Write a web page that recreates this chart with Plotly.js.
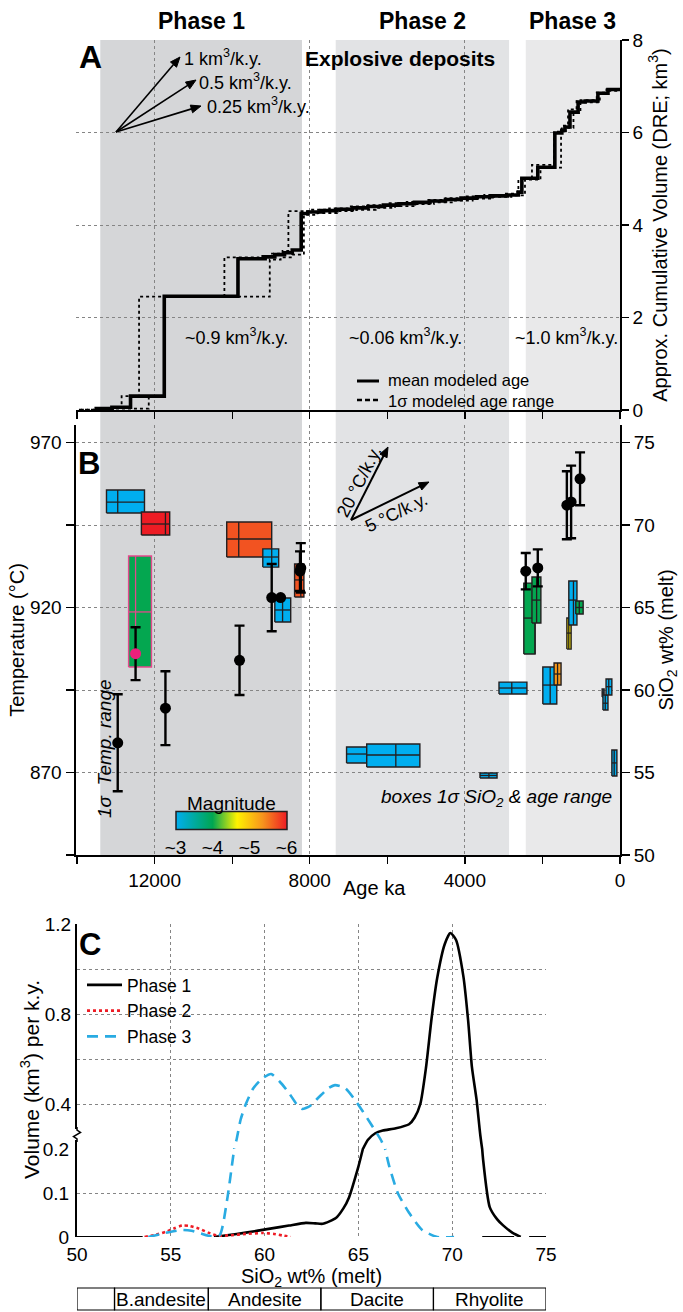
<!DOCTYPE html>
<html><head><meta charset="utf-8">
<script src="https://cdn.plot.ly/plotly-3.0.1.min.js"></script>
<style>html,body{margin:0;padding:0;background:#fff;}#chart{width:683px;height:1312px;}</style>
</head><body><div id="chart"></div>
<script>
// ================= DATA =================
// Eruptive phases (age, years before present)
const phaseNames = ['Phase 1', 'Phase 2', 'Phase 3'];
const phaseOldAge = [13400, 7330, 2430];
const phaseYoungAge = [8200, 2860, 0];
const phaseRates = ['~0.9 km<sup>3</sup>/k.y.', '~0.06 km<sup>3</sup>/k.y.', '~1.0 km<sup>3</sup>/k.y.'];
const refRates = ['1 km<sup>3</sup>/k.y.', '0.5 km<sup>3</sup>/k.y.', '0.25 km<sup>3</sup>/k.y.'];
const tempRates = ['20 °C/k.y.', '5 °C/k.y.'];
const seriesA = ['mean modeled age', '1σ modeled age range'];

// Panel A: cumulative volume (DRE km3) step curves
const meanAge = [13550, 13100, 12620, 11750, 9850, 9150, 8900, 8650, 8450, 8220, 8050, 7700, 7300, 6900, 6500, 6100, 5700, 5300, 4900, 4500, 4100, 3700, 3300, 2900, 2620, 2530, 2120, 1680, 1500, 1420, 1290, 1080, 900, 570, 310, 0];
const meanVol = [0.03, 0.06, 0.30, 2.46, 3.27, 3.31, 3.36, 3.40, 3.46, 4.25, 4.28, 4.31, 4.34, 4.37, 4.40, 4.43, 4.46, 4.49, 4.52, 4.55, 4.58, 4.61, 4.63, 4.65, 4.71, 5.01, 5.25, 5.99, 6.05, 6.12, 6.44, 6.66, 6.68, 6.85, 6.93, 6.93];
const olderAge = [13950, 13400, 12850, 12400, 10200, 9300, 9000, 8700, 8550, 8000, 7500, 7000, 6500, 6000, 5500, 5000, 4500, 4000, 3500, 3000, 2650, 2620, 2270, 1700, 1500, 1340, 1120, 600, 350, 0];
const olderVol = [0.01, 0.04, 0.30, 2.45, 3.30, 3.33, 3.38, 3.44, 4.30, 4.33, 4.36, 4.40, 4.43, 4.47, 4.50, 4.54, 4.58, 4.62, 4.65, 4.68, 4.75, 5.00, 5.30, 6.02, 6.15, 6.50, 6.70, 6.86, 6.93, 6.93];
const youngerAge = [13900, 13000, 12150, 11750, 9030, 8750, 8450, 8150, 7800, 7300, 6800, 6300, 5800, 5300, 4800, 4300, 3800, 3300, 2800, 2450, 2050, 1520, 1400, 1200, 1020, 520, 280, 0];
const youngerVol = [0.01, 0.03, 0.30, 2.45, 3.25, 3.30, 3.36, 4.22, 4.26, 4.30, 4.33, 4.37, 4.41, 4.45, 4.49, 4.53, 4.57, 4.61, 4.64, 4.98, 5.24, 6.00, 6.10, 6.42, 6.65, 6.83, 6.90, 6.90];

// Panel B: SiO2 boxes (1 sigma SiO2 and age range), eruption magnitude
const boxAgeOld   = [13240, 12340, 10140, 9210, 8900, 8390, 7050, 6530, 3610, 3120, 2480, 2270, 1370, 1320, 1140, 1990, 1700, 460, 440, 360, 210];
const boxAgeYoung = [12260, 11610, 8980, 8800, 8490, 8150, 6530, 5160, 3170, 2400, 2190, 2040, 1260, 1110, 950, 1630, 1520, 410, 310, 210, 80];
const boxAgeMean  = [12950, 11720, 9830, 8980, 8700, 8230, 6530, 5780, 3380, 2790, 2190, 2150, 1320, 1200, 1050, 1800, 1610, 435, 380, 290, 150];
const boxSiLow    = [70.73, 69.39, 68.06, 67.45, 64.12, 65.64, 55.58, 55.33, 54.67, 59.76, 62.18, 64.06, 62.48, 63.94, 64.61, 59.15, 60.30, 59.58, 58.79, 59.70, 54.79];
const boxSiHigh   = [72.12, 70.79, 70.18, 68.55, 65.58, 67.64, 56.55, 56.73, 54.97, 60.48, 66.48, 66.85, 64.36, 66.61, 65.39, 61.39, 61.64, 60.06, 59.70, 60.67, 56.36];
const boxSiMean   = [71.39, 70.06, 69.15, 68.06, 64.85, 66.67, 56.12, 56.06, 54.82, 60.12, 64.36, 65.45, 63.45, 65.45, 65.00, 60.30, 60.97, 59.82, 59.20, 60.20, 55.58];
const boxMag      = [3, 6, 5.7, 3, 3, 5.7, 3, 3, 3, 3, 4, 4, 4.7, 3, 4, 3, 5.3, 3, 3, 3, 3];
// highlighted sample (pink outline) with its temperature estimate
const hlAgeOld = [12670], hlAgeYoung = [12080], hlAgeMean = [12490];
const hlSiLow = [61.39], hlSiHigh = [68.12], hlSiMean = [64.73], hlMag = [4];
const hlTempAge = [12490], hlTemp = [906], hlTempErr = [8];
// temperatures (deg C) with 1 sigma
const tempAge = [12950, 11720, 9810, 8980, 8750, 8250, 8230, 2430, 2120, 1370, 1260, 1030];
const tempC   = [879, 889.5, 904, 923, 923, 931, 932, 931, 932, 951, 952, 959];
const tempErr = [14.7, 11.2, 10.5, 10.2, 0, 6, 7.5, 5.5, 5.6, 10.3, 11, 8];
const magTickVals = [3, 4, 5, 6];
const magTickText = ['~3', '~4', '~5', '~6'];

// Panel C: erupted volume per k.y. vs SiO2
const p1Si  = [57.3, 58.0, 59.0, 60.3, 61.3, 62.2, 62.7, 63.1, 63.8, 64.2, 64.5, 65.0, 65.5, 65.9, 66.3, 67.0, 67.7, 68.0, 68.3, 68.6, 68.9, 69.2, 69.6, 69.9, 70.2, 70.6, 70.85, 71.05, 71.3, 71.5, 71.65, 72.0, 72.4, 72.7, 73.2, 73.65];
const p1Vol = [0, 0.004, 0.010, 0.019, 0.026, 0.032, 0.031, 0.030, 0.043, 0.065, 0.090, 0.160, 0.240, 0.270, 0.282, 0.292, 0.310, 0.340, 0.400, 0.560, 0.780, 0.960, 1.110, 1.160, 1.130, 0.965, 0.770, 0.565, 0.418, 0.260, 0.175, 0.068, 0.040, 0.027, 0.010, 0];
const p2Si  = [53.6, 54.2, 54.75, 55.2, 55.6, 56.0, 56.5, 57.0, 57.5, 58.2, 59.0, 59.9, 60.5, 61.0, 61.4];
const p2Vol = [0, 0.005, 0.012, 0.020, 0.026, 0.025, 0.019, 0.010, 0.003, 0.004, 0.007, 0.009, 0.007, 0.003, 0];
const p3Si  = [53.8, 54.4, 55.0, 55.6, 56.1, 56.6, 57.1, 57.6, 58.0, 58.25, 58.5, 58.72, 59.0, 59.4, 59.9, 60.35, 60.8, 61.3, 61.7, 62.0, 62.4, 62.9, 63.4, 63.75, 64.3, 64.8, 65.25, 65.6, 66.2, 66.65, 67.1, 67.7, 68.4, 69.2, 70.1];
const p3Vol = [0, 0.006, 0.012, 0.016, 0.014, 0.008, 0.002, 0.004, 0.084, 0.160, 0.240, 0.330, 0.400, 0.470, 0.515, 0.533, 0.500, 0.449, 0.400, 0.378, 0.390, 0.431, 0.470, 0.484, 0.470, 0.420, 0.365, 0.320, 0.240, 0.160, 0.100, 0.055, 0.016, 0, 0];
const rockNames = ['', 'B.andesite', 'Andesite', 'Dacite', 'Rhyolite'];
const rockBounds = [50, 52, 57, 63, 69, 75];

// ================= HELPERS =================
const W = 683, H = 1312;
const X = p => p / W;
const Y = p => 1 - p / H;
const FONT = 'Liberation Sans, Arial, Helvetica, sans-serif';
const GRID = '#858585';
const magScale = [[0, '#00aeef'], [0.33, '#00a651'], [0.55, '#fff200'], [0.78, '#f7941d'], [1, '#ed1c24']];
function hex2rgb(h) { return [1, 3, 5].map(i => parseInt(h.substr(i, 2), 16)); }
function magColor(m) {
  const t = Math.max(0, Math.min(1, (m - 3) / 3));
  for (let i = 1; i < magScale.length; i++) {
    if (t <= magScale[i][0]) {
      const a = magScale[i - 1], b = magScale[i];
      const f = (t - a[0]) / (b[0] - a[0]);
      const ca = hex2rgb(a[1]), cb = hex2rgb(b[1]);
      return 'rgb(' + ca.map((v, k) => Math.round(v + (cb[k] - v) * f)).join(',') + ')';
    }
  }
  return magScale[magScale.length - 1][1];
}

const traces = [];
// ---------- Panel A ----------
traces.push({x: olderAge, y: olderVol, xaxis: 'x', yaxis: 'y', mode: 'lines', name: seriesA[1] + ' (older)', showlegend: false,
  line: {color: '#000', width: 1.8, dash: 'dot', shape: 'hv'}});
traces.push({x: youngerAge, y: youngerVol, xaxis: 'x', yaxis: 'y', mode: 'lines', name: seriesA[1] + ' (younger)', showlegend: false,
  line: {color: '#000', width: 1.8, dash: 'dot', shape: 'hv'}});
traces.push({x: meanAge, y: meanVol, xaxis: 'x', yaxis: 'y', mode: 'lines', name: seriesA[0], showlegend: false,
  line: {color: '#000', width: 3.6, shape: 'hv'}});

// ---------- Panel B ----------
function addBox(a0, a1, am, s0, s1, sm, mag, edge) {
  traces.push({x: [a0, a1, a1, a0, a0], y: [s0, s0, s1, s1, s0], xaxis: 'x2', yaxis: 'y2',
    mode: 'lines', fill: 'toself', fillcolor: magColor(mag), showlegend: false,
    line: {color: edge, width: 1.4}});
  traces.push({x: [a0, a1, null, am, am], y: [sm, sm, null, s0, s1], xaxis: 'x2', yaxis: 'y2',
    mode: 'lines', showlegend: false, line: {color: edge, width: 1.3}});
}
for (let i = 0; i < boxAgeOld.length; i++) {
  addBox(boxAgeOld[i], boxAgeYoung[i], boxAgeMean[i], boxSiLow[i], boxSiHigh[i], boxSiMean[i], boxMag[i], '#231f20');
}
addBox(hlAgeOld[0], hlAgeYoung[0], hlAgeMean[0], hlSiLow[0], hlSiHigh[0], hlSiMean[0], hlMag[0], '#e4488c');

// invisible markers carrying the magnitude colour scale (for the colour bar)
traces.push({x: boxAgeMean, y: boxSiMean, xaxis: 'x2', yaxis: 'y2', mode: 'markers', showlegend: false,
  marker: {size: 1, opacity: 0, color: boxMag, cmin: 3, cmax: 6, colorscale: magScale, showscale: true,
    colorbar: {orientation: 'h', xref: 'paper', yref: 'paper', x: X(231), xanchor: 'center', y: Y(852), yanchor: 'bottom',
      len: 111, lenmode: 'pixels', thickness: 18, thicknessmode: 'pixels', outlinecolor: '#231f20', outlinewidth: 1.5,
      borderwidth: 0, xpad: 0, ypad: 0, tickvals: magTickVals, ticktext: magTickText, ticks: '',
      tickfont: {size: 19, family: FONT, color: '#000'}}}});

// temperatures
traces.push({x: tempAge, y: tempC, xaxis: 'x2', yaxis: 'y3', mode: 'markers', showlegend: false,
  marker: {color: '#000', size: 11},
  error_y: {type: 'data', array: tempErr, visible: true, color: '#000', thickness: 2.4, width: 5}});
traces.push({x: hlTempAge, y: hlTemp, xaxis: 'x2', yaxis: 'y3', mode: 'markers', showlegend: false,
  marker: {color: '#ec1f7b', size: 11},
  error_y: {type: 'data', array: hlTempErr, visible: true, color: '#000', thickness: 2.4, width: 5}});

// ---------- Panel C ----------
const cSeries = [
  {name: 'Phase 1', x: p1Si, y: p1Vol, line: {color: '#000', width: 2.6}},
  {name: 'Phase 2', x: p2Si, y: p2Vol, line: {color: '#ee1c25', width: 2.6, dash: 'dot'}},
  {name: 'Phase 3', x: p3Si, y: p3Vol, line: {color: '#29abe2', width: 2.6, dash: '11px,7px'}}
];
cSeries.forEach(s => {
  traces.push({x: s.x, y: s.y, xaxis: 'x3', yaxis: 'y4', mode: 'lines', showlegend: false,
    line: Object.assign({shape: 'spline', smoothing: 0.6}, s.line)});
  traces.push({x: s.x, y: s.y, xaxis: 'x3', yaxis: 'y5', mode: 'lines', name: s.name, legend: 'legend2',
    showlegend: true, line: Object.assign({shape: 'spline', smoothing: 0.6}, s.line)});
});

// ================= LAYOUT =================
const shapes = [];
const bandColors = ['#d5d6d8', '#e2e3e5', '#e9e9ea'];
for (let i = 0; i < phaseNames.length; i++) {
  shapes.push({type: 'rect', xref: 'x', yref: 'paper', x0: phaseOldAge[i], x1: phaseYoungAge[i],
    y0: Y(855), y1: Y(40), fillcolor: bandColors[i], line: {width: 0}, layer: 'below'});
}
// arrows drawn as line + filled head (pixel positions converted to paper)
function arrow(ox, oy, tx, ty, width) {
  const dx = tx - ox, dy = ty - oy, L = Math.hypot(dx, dy);
  const ux = dx / L, uy = dy / L, nx = -uy, ny = ux;
  const hl = 10, hw = 4;
  const bx = tx - ux * hl, by = ty - uy * hl;
  shapes.push({type: 'line', xref: 'paper', yref: 'paper', x0: X(ox), y0: Y(oy), x1: X(bx + ux), y1: Y(by + uy),
    line: {color: '#000', width}});
  shapes.push({type: 'path', xref: 'paper', yref: 'paper', fillcolor: '#000', line: {color: '#000', width: 1},
    path: `M ${X(tx)} ${Y(ty)} L ${X(bx + nx * hw)} ${Y(by + ny * hw)} L ${X(bx - nx * hw)} ${Y(by - ny * hw)} Z`});
}
arrow(116, 132, 180, 57, 1.6);
arrow(116, 132, 196, 80, 1.6);
arrow(116, 132, 201, 106, 1.6);
arrow(351, 520, 388, 447, 2);
arrow(351, 520, 429, 482, 2);
// legend samples for panel A
shapes.push({type: 'line', xref: 'paper', yref: 'paper', x0: X(357), x1: X(379), y0: Y(381), y1: Y(381), line: {color: '#000', width: 3}});
shapes.push({type: 'line', xref: 'paper', yref: 'paper', x0: X(357), x1: X(381), y0: Y(400), y1: Y(400), line: {color: '#000', width: 2.6, dash: '5px,3px'}});
// broken-axis mark (panel C)
shapes.push({type: 'rect', xref: 'paper', yref: 'paper', x0: X(74), x1: X(80), y0: Y(1140), y1: Y(1129), fillcolor: '#fff', line: {width: 0}});
shapes.push({type: 'path', xref: 'paper', yref: 'paper',
  path: `M ${X(77)} ${Y(1127)} L ${X(77)} ${Y(1130)} L ${X(80.5)} ${Y(1132.5)} L ${X(73.5)} ${Y(1136.5)} L ${X(77)} ${Y(1139)} L ${X(77)} ${Y(1142)}`,
  line: {color: '#000', width: 1.5}});
// x-axis line fragments (panel C)
[[50, 53.5], [71.6, 73.3], [74.1, 75]].forEach(s => shapes.push({type: 'line', xref: 'x3', yref: 'y4',
  x0: s[0], x1: s[1], y0: 0, y1: 0, line: {color: '#000', width: 2}}));
// rock-type table
for (let i = 0; i < rockNames.length; i++) {
  shapes.push({type: 'rect', xref: 'x3', yref: 'paper', x0: rockBounds[i], x1: rockBounds[i + 1],
    y0: Y(1310), y1: Y(1288), line: {color: '#000', width: 1.2}});
}

const ann = [];
const txt = (text, x, y, size, extra) => ann.push(Object.assign({text, x: X(x), y: Y(y), xref: 'paper', yref: 'paper',
  showarrow: false, font: {size, family: FONT, color: '#000'}, xanchor: 'center', yanchor: 'middle'}, extra || {}));
for (let i = 0; i < phaseNames.length; i++) {
  ann.push({text: '<b>' + phaseNames[i] + '</b>', xref: 'x', yref: 'paper', x: (phaseOldAge[i] + phaseYoungAge[i]) / 2,
    y: Y(21), xanchor: 'center', yanchor: 'middle', showarrow: false, font: {size: 23, family: FONT, color: '#000'}});
}
txt('<b>A</b>', 90, 57, 32);
txt('<b>Explosive deposits</b>', 400, 59, 21);
const arrowLabelPos = [[182, 57], [197, 81], [205, 105]];
for (let i = 0; i < refRates.length; i++) txt(refRates[i], arrowLabelPos[i][0], arrowLabelPos[i][1], 18, {xanchor: 'left'});
const rateX = [236, 405, 566];
for (let i = 0; i < phaseRates.length; i++) txt(phaseRates[i], rateX[i], 336, 18);
txt(seriesA.join('<br>'), 386, 390.5, 16.5, {xanchor: 'left', align: 'left'});
// panel B
txt('<b>B</b>', 89, 463, 31);
txt(tempRates[0], 359, 482, 18, {textangle: -63});
txt(tempRates[1], 396, 513, 18, {textangle: -26});
txt('<i>1σ  Temp. range</i>', 104, 749, 19, {textangle: -90});
txt('<i>boxes 1σ SiO<sub>2</sub> &amp; age range</i>', 614, 798, 19, {xanchor: 'right'});
txt('Magnitude', 231, 803, 19);
txt('Age ka', 374, 888, 20);
// panel C
txt('<b>C</b>', 90, 944, 31);
txt('Volume (km<sup>3</sup>) per k.y.', 30, 1080, 21, {textangle: -90});
for (let i = 1; i < rockNames.length; i++) {
  ann.push({text: rockNames[i], xref: 'x3', yref: 'paper', x: (rockBounds[i] + rockBounds[i + 1]) / 2, y: Y(1299.5),
    xanchor: 'center', yanchor: 'middle', showarrow: false, font: {size: 19, family: FONT, color: '#000'}});
}

const ageAxis = (anchor, labels) => ({
  domain: [X(76), X(620)], range: [14026, 0], anchor, showline: true, linecolor: '#000', linewidth: 2,
  ticks: 'outside', ticklen: 7, tickwidth: 1.3, tickcolor: '#000', tick0: 0, dtick: 4000, tickformat: 'd',
  showticklabels: labels, tickfont: {size: 19, family: FONT, color: '#000'},
  showgrid: true, gridcolor: GRID, griddash: 'dot', gridwidth: 1, zeroline: false,
  minor: {tick0: 0, dtick: 2000, ticks: 'outside', ticklen: 7, tickwidth: 1.3, tickcolor: '#000', showgrid: false}
});

const layout = {
  width: W, height: H, margin: {l: 0, r: 0, t: 0, b: 0}, paper_bgcolor: '#fff', plot_bgcolor: 'rgba(0,0,0,0)',
  font: {family: FONT, size: 19, color: '#000'},
  xaxis: ageAxis('y', false),
  yaxis: {domain: [Y(410), Y(40)], range: [0, 8], anchor: 'x', side: 'right', showline: true, linecolor: '#000', linewidth: 1.8,
    ticks: 'outside', ticklen: 7, tickcolor: '#000', tickwidth: 1.3, tick0: 0, dtick: 2, tickfont: {size: 19},
    showgrid: true, gridcolor: GRID, griddash: 'dot', zeroline: false,
    title: {text: 'Approx. Cumulative Volume (DRE; km<sup>3</sup>)', font: {size: 20}, standoff: 10}},
  xaxis2: ageAxis('y2', true),
  yaxis2: {domain: [Y(855), Y(425)], range: [50, 50 + 430 / 16.5], anchor: 'x2', side: 'right', showline: true, linecolor: '#000', linewidth: 2,
    ticks: 'outside', ticklen: 8, tickcolor: '#000', tickwidth: 1.3, tick0: 50, dtick: 5, tickfont: {size: 19},
    showgrid: true, gridcolor: GRID, griddash: 'dot', zeroline: false,
    title: {text: 'SiO<sub>2</sub> wt% (melt)', font: {size: 20}, standoff: 3}},
  yaxis3: {overlaying: 'y2', anchor: 'x2', side: 'left', range: [845, 845 + 5 * (430 / 16.5)], showline: true, linecolor: '#000', linewidth: 2.5,
    ticks: 'outside', ticklen: 8, tickcolor: '#000', tickwidth: 1.3, tick0: 870, dtick: 50, tickfont: {size: 19},
    minor: {tick0: 845, dtick: 25, ticks: 'outside', ticklen: 8, tickwidth: 1.3, tickcolor: '#000', showgrid: false},
    showgrid: false, zeroline: false,
    title: {text: 'Temperature (°C)', font: {size: 20}, standoff: 0}},
  xaxis3: {domain: [X(77), X(546)], range: [50, 75], anchor: 'y4', showline: false, ticks: '', tick0: 50, dtick: 5,
    ticklabelstandoff: 4, tickfont: {size: 19}, showgrid: true, gridcolor: GRID, griddash: 'dot', zeroline: false,
    title: {text: 'SiO<sub>2</sub> wt% (melt)', font: {size: 20}, standoff: 0}},
  yaxis4: {domain: [Y(1237), Y(1149)], range: [0, 0.2], anchor: 'x3', showline: true, linecolor: '#000', linewidth: 2,
    tickvals: [0, 0.1, 0.2], ticktext: ['0', '0.1', '0.2'], ticks: '', ticklabelstandoff: 2, tickfont: {size: 19},
    showgrid: true, gridcolor: GRID, griddash: 'dot', zeroline: false},
  yaxis5: {domain: [Y(1149), Y(924)], range: [0.2, 1.2], anchor: 'x3', showline: true, linecolor: '#000', linewidth: 2,
    tickvals: [0.4, 0.8, 1.2], ticktext: ['0.4', '0.8', '1.2'], ticks: '', tickfont: {size: 19},
    showgrid: true, gridcolor: GRID, griddash: 'dot', zeroline: false,
    minor: {tickvals: [0.6, 1.0], ticks: '', showgrid: true, gridcolor: GRID, griddash: 'dot', gridwidth: 1}},
  showlegend: true,
  legend2: {x: X(82), y: Y(967), xanchor: 'left', yanchor: 'top', bgcolor: 'rgba(0,0,0,0)', borderwidth: 0,
    font: {size: 17.5, family: FONT, color: '#000'}, itemwidth: 35, tracegroupgap: 0},
  shapes, annotations: ann
};

Plotly.newPlot('chart', traces, layout, {staticPlot: true, displayModeBar: false});
</script>
</body></html>
